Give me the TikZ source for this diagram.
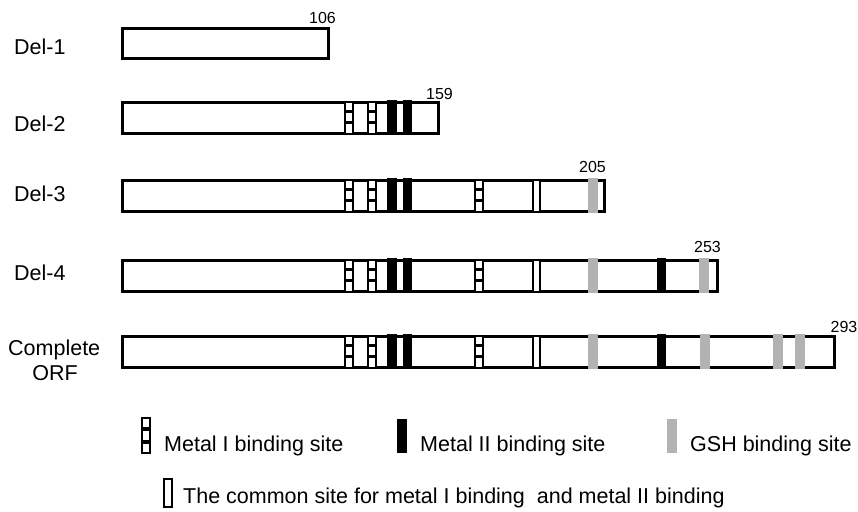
\documentclass[tikz,border=0pt]{standalone}
\usepackage{fontspec}
\setmainfont{Liberation Sans}
\begin{document}
\begin{tikzpicture}[x=1pt,y=-1pt,
  bar/.style={draw=black, line width=3pt, fill=white},
  lab/.style={font=\fontsize{21.5}{24}\selectfont, inner sep=0pt},
  num/.style={font=\fontsize{16}{18}\selectfont, inner sep=0pt},
  mI/.pic={\draw[line width=2pt, fill=white] (-4,0) rectangle (4,32);
           \fill (-4,8.5) rectangle (4,11.5); \fill (-4,19.5) rectangle (4,22.5);},
  mII/.pic={\fill[black] (-4.8,-1.5) rectangle (4.8,33.5);},
  gsh/.pic={\fill[gray!60] (-5,-1.5) rectangle (5,33.5);},
  com/.pic={\draw[line width=2pt, fill=white] (-3.5,0) rectangle (3.5,32);}
]
\useasboundingbox (0,0) rectangle (858,511);
\fill[white] (0,0) rectangle (858,511);

% row labels
\node[lab, anchor=base west] (l1) at (14,55) {Del-1};
\node[lab, anchor=base west] (l2) at (14,131) {Del-2};
\node[lab, anchor=base west] (l3) at (14,201) {Del-3};
\node[lab, anchor=base west] (l4) at (14,280) {Del-4};
\node[lab, anchor=base west] (l5) at (8,355) {Complete};
\node[lab, anchor=base] (l6) at (55,380) {ORF};

% Del-1
\draw[bar] (122,29) rectangle (328,58);
\node[num, anchor=base east] (n1) at (336,24) {106};

% Del-2
\draw[bar] (122,102) rectangle (438,133);
\begin{scope}[shift={(0,101.5)}]
  \pic at (349,0) {mI}; \pic at (371.5,0) {mI};
  \pic at (392,0) {mII}; \pic at (407.5,0) {mII};
\end{scope}
\node[num, anchor=base east] (n2) at (453,99) {159};

% Del-3
\draw[bar] (122,180) rectangle (604,211);
\begin{scope}[shift={(0,179.5)}]
  \pic at (349,0) {mI}; \pic at (371.5,0) {mI};
  \pic at (392,0) {mII}; \pic at (407.5,0) {mII};
  \pic at (479,0) {mI}; \pic at (536.5,0) {com};
  \pic at (593,0) {gsh};
\end{scope}
\node[num, anchor=base east] (n3) at (606,172) {205};

% Del-4
\draw[bar] (122,260) rectangle (717,291);
\begin{scope}[shift={(0,259.5)}]
  \pic at (349,0) {mI}; \pic at (371.5,0) {mI};
  \pic at (392,0) {mII}; \pic at (407.5,0) {mII};
  \pic at (479,0) {mI}; \pic at (536.5,0) {com};
  \pic at (593,0) {gsh}; \pic at (661.5,0) {mII};
  \pic at (704,0) {gsh};
\end{scope}
\node[num, anchor=base east] (n4) at (721,252) {253};

% Complete ORF
\draw[bar] (122,336) rectangle (834,367);
\begin{scope}[shift={(0,335.5)}]
  \pic at (349,0) {mI}; \pic at (371.5,0) {mI};
  \pic at (392,0) {mII}; \pic at (407.5,0) {mII};
  \pic at (479,0) {mI}; \pic at (536.5,0) {com};
  \pic at (593,0) {gsh}; \pic at (661.5,0) {mII};
  \pic at (704.5,0) {gsh}; \pic at (778,0) {gsh}; \pic at (800,0) {gsh};
\end{scope}
\node[num, anchor=base east] (n5) at (857.5,332) {293};

% legend
\draw[line width=2pt, fill=white] (142,418) rectangle (150,453);
\fill (142,427) rectangle (150,430.5);
\fill (142,440) rectangle (150,443.5);
\node[lab, anchor=base west] (t1) at (164,451) {Metal I binding site};
\fill[black] (397,419) rectangle (407,453);
\node[lab, anchor=base west] (t2) at (420,451) {Metal II binding site};
\fill[gray!60] (667,419) rectangle (677,453);
\node[lab, anchor=base west] (t3) at (690,451) {GSH binding site};
\draw[line width=2pt, fill=white] (164,479) rectangle (172,507);
\node[lab, anchor=base west] (t4) at (183,503) {The common site for metal I binding\ \ and metal II binding};
\end{tikzpicture}
\end{document}
